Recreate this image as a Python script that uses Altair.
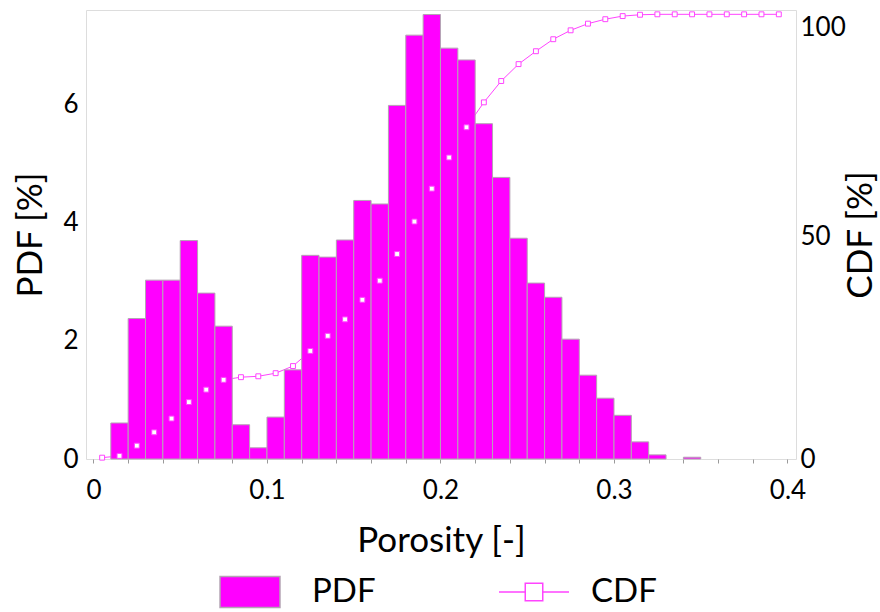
import altair as alt
import pandas as pd

# Porosity bins (lower edges), bin width 0.01
bin_start = [0.00, 0.01, 0.02, 0.03, 0.04, 0.05, 0.06, 0.07, 0.08, 0.09,
             0.10, 0.11, 0.12, 0.13, 0.14, 0.15, 0.16, 0.17, 0.18, 0.19,
             0.20, 0.21, 0.22, 0.23, 0.24, 0.25, 0.26, 0.27, 0.28, 0.29,
             0.30, 0.31, 0.32, 0.33, 0.34, 0.35, 0.36, 0.37, 0.38, 0.39]

# Probability density per bin [%]
pdf_pct = [0.00, 0.61, 2.38, 3.03, 3.03, 3.70, 2.81, 2.25, 0.58, 0.19,
           0.71, 1.51, 3.45, 3.42, 3.71, 4.38, 4.32, 5.99, 7.18, 7.53,
           6.96, 6.76, 5.68, 4.77, 3.74, 2.98, 2.74, 2.03, 1.42, 1.03,
           0.74, 0.29, 0.07, 0.00, 0.03, 0.00, 0.00, 0.00, 0.00, 0.00]

# Cumulative distribution at each bin centre [%]
cdf_pct = [0.3, 0.7, 3.0, 6.0, 9.1, 12.8, 15.6, 17.8, 18.4, 18.6,
           19.3, 20.9, 24.3, 27.7, 31.4, 35.8, 40.1, 46.1, 53.4, 60.8,
           67.8, 74.6, 80.2, 85.0, 88.8, 91.7, 94.4, 96.4, 97.9, 98.9,
           99.6, 99.9, 100.0, 100.0, 100.0, 100.0, 100.0, 100.0, 100.0, 100.0]

x_ticks = [0.0, 0.02, 0.04, 0.06, 0.08, 0.1, 0.12, 0.14, 0.16, 0.18, 0.2,
           0.22, 0.24, 0.26, 0.28, 0.3, 0.32, 0.34, 0.36, 0.38, 0.4]

df = pd.DataFrame({"start": bin_start, "pdf": pdf_pct, "cdf": cdf_pct})

FONT = "Lato"
MAGENTA = "#ff00ff"
LINE_MAGENTA = "#ff44ff"
BAR_EDGE = "#b4a4b4"
PLOT_H = 449

x_scale = alt.Scale(domain=[-0.0043, 0.4049], nice=False, zero=False)
pdf_scale = alt.Scale(domain=[0, 7.606], nice=False)
cdf_scale = alt.Scale(domain=[0, 100.97], nice=False)

x_axis = alt.Axis(
    values=x_ticks,
    labelExpr="abs(datum.value * 10 - round(datum.value * 10)) < 0.001 ? format(datum.value, '~g') : ''",
    title="Porosity [-]",
    grid=False, domain=False, offset=0,
    tickColor="#9a9a9a", tickSize=4,
    labelFont=FONT, labelFontSize=26, labelPadding=14, labelColor="black",
    titleFont=FONT, titleFontSize=35, titleFontWeight="normal", titlePadding=20,
)

# legend glyphs: a wide filled box, and a line segment with a hollow square
rect_path = "M-0.857,-0.443H0.857V0.443H-0.857Z"
cdf_path = "M-1,0H-0.25M-0.25,-0.25H0.25V0.25H-0.25ZM0.25,0H1"

legend_common = dict(
    title=None, orient="none", direction="horizontal",
    symbolSize=4900, symbolStrokeWidth=1.5, symbolOpacity=1,
    labelFont=FONT, labelFontSize=33, labelColor="black", padding=0,
)

pdf_legend = alt.Legend(
    legendX=128, legendY=546, symbolType=rect_path, labelOffset=26,
    symbolFillColor=MAGENTA, symbolStrokeColor=BAR_EDGE, **legend_common
)
cdf_legend = alt.Legend(
    legendX=412, legendY=546, symbolType=cdf_path, labelOffset=21,
    symbolFillColor="white", symbolStrokeColor=LINE_MAGENTA, **legend_common
)

base = alt.Chart(df).transform_calculate(
    end="datum.start + 0.01",
    mid="datum.start + 0.005",
    zero="0",
)

# CDF line sits behind the bars
cdf_line = base.mark_line(color=LINE_MAGENTA, strokeWidth=1).encode(
    x=alt.X("mid:Q", scale=x_scale, axis=x_axis),
    y=alt.Y("cdf:Q", scale=cdf_scale, axis=None),
)

pdf_bars = base.transform_filter("datum.pdf > 0").transform_calculate(
    series="'PDF'"
).mark_rect(stroke=BAR_EDGE, strokeWidth=1, opacity=1).encode(
    x=alt.X("start:Q", scale=x_scale, axis=x_axis),
    x2="end:Q",
    y=alt.Y("pdf:Q", scale=pdf_scale, axis=alt.Axis(
        orient="left", values=[0, 2, 4, 6], title="PDF [%]",
        grid=False, domain=False, ticks=False, tickSize=0, offset=0,
        labelFont=FONT, labelFontSize=26, labelPadding=8, labelColor="black",
        labelAlign="right", labelBaseline="middle",
        titleFont=FONT, titleFontSize=35, titleFontWeight="normal",
        titleAngle=270, titleX=-56, titleY=PLOT_H / 2,
        titleAlign="center", titleBaseline="middle",
    )),
    y2="zero:Q",
    fill=alt.Fill("series:N", scale=alt.Scale(domain=["PDF"], range=[MAGENTA]),
                  legend=pdf_legend),
)

cdf_points = base.transform_calculate(series="'CDF'").mark_point(
    shape="square", filled=False, fill="white", size=24, strokeWidth=1, opacity=1
).encode(
    x=alt.X("mid:Q", scale=x_scale, axis=x_axis),
    y=alt.Y("cdf:Q", scale=cdf_scale, axis=alt.Axis(
        orient="right", values=[0, 50, 100], title="CDF [%]",
        grid=False, domain=False, ticks=False, tickSize=0, offset=0,
        labelFont=FONT, labelFontSize=26, labelPadding=4, labelColor="black",
        labelBaseline={"condition": {"test": "datum.value >= 100", "value": "top"},
                       "value": "middle"},
        titleFont=FONT, titleFontSize=35, titleFontWeight="normal",
        titleAngle=270, titleX=64, titleY=PLOT_H / 2,
        titleAlign="center", titleBaseline="middle",
    )),
    stroke=alt.Stroke("series:N", scale=alt.Scale(domain=["CDF"], range=[LINE_MAGENTA]),
                      legend=cdf_legend),
)

chart = alt.layer(cdf_line, pdf_bars, cdf_points).resolve_scale(
    y="independent"
).properties(
    width=710, height=PLOT_H,
    padding={"left": 86, "top": 10, "right": 84, "bottom": 153},
    autosize=alt.AutoSizeParams(type="none"),
).configure_view(
    stroke="#f5a9a9", strokeWidth=1
).configure(background="white")

chart.save("out.html", embed_options={"renderer": "svg", "actions": False})
